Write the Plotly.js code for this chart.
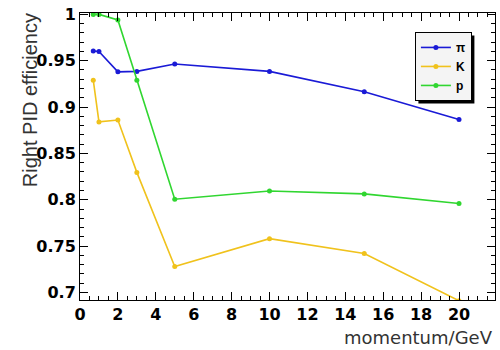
<!DOCTYPE html>
<html>
<head>
<meta charset="utf-8">
<script src="https://cdn.plot.ly/plotly-3.0.1.min.js"></script>
<style>html,body{margin:0;padding:0;background:#fff;}#chart{width:500px;height:350px;}</style>
</head>
<body>
<div id="chart"></div>
<script>
const momentum = [0.7, 1, 2, 3, 5, 10, 15, 20];
const effPi = [0.9605, 0.960, 0.938, 0.9385, 0.9465, 0.9385, 0.9165, 0.8865];
const effK  = [0.929, 0.884, 0.886, 0.8295, 0.728, 0.758, 0.742, 0.691];
const effP  = [1.0, 1.0, 0.994, 0.929, 0.8005, 0.8095, 0.8063, 0.796];
const seriesNames = ['\u03c0', 'K', 'p'];
const seriesColors = ['#1a1ad6', '#f0c21c', '#30d630'];

const allY = [effPi, effK, effP];
const traces = allY.map((ys, i) => ({
  x: momentum, y: ys, name: seriesNames[i], type: 'scatter', mode: 'lines+markers',
  line: {color: seriesColors[i], width: 1.6},
  marker: {color: seriesColors[i], size: 5, symbol: 'circle'}
}));

const tickFont = {family: 'DejaVu Sans, sans-serif', size: 16, color: '#000', weight: 'bold'};
const layout = {
  width: 500, height: 350,
  margin: {l: 80, r: 5, t: 13, b: 50},
  paper_bgcolor: '#fff', plot_bgcolor: '#fff',
  showlegend: true,
  legend: {
    x: 0.807, y: 0.934, xanchor: 'left', yanchor: 'top',
    bgcolor: '#f4f4f4', bordercolor: '#000', borderwidth: 1,
    font: {family: 'Liberation Sans, Arial, sans-serif', size: 12, color: '#000', weight: 'bold'},
    itemwidth: 30, tracegroupgap: 0
  },
  xaxis: {
    range: [0, 21.9], dtick: 2, tick0: 0, ticks: 'inside', ticklen: 8, tickwidth: 1, tickcolor: '#000',
    showline: true, linecolor: '#000', linewidth: 1, mirror: 'ticks', showgrid: false, zeroline: false,
    tickfont: tickFont, ticklabelstandoff: 0,
    minor: {dtick: 0.5, ticks: 'inside', ticklen: 4, tickcolor: '#000', showgrid: false}
  },
  yaxis: {
    range: [0.6918, 1.0015], dtick: 0.05, tick0: 0.7, ticks: 'inside', ticklen: 8, tickwidth: 1, tickcolor: '#000',
    showline: true, linecolor: '#000', linewidth: 1, mirror: 'ticks', showgrid: false, zeroline: false,
    tickfont: tickFont,
    minor: {dtick: 0.01, ticks: 'inside', ticklen: 4, tickcolor: '#000', showgrid: false}
  },
  annotations: [
    {text: 'Right PID efficiency', xref: 'paper', yref: 'paper', x: -0.12, y: 0.697,
     xanchor: 'center', yanchor: 'middle', textangle: -90, showarrow: false,
     font: {family: 'Liberation Sans, Arial, sans-serif', size: 20, color: '#333'}},
    {text: 'momentum/GeV', xref: 'paper', yref: 'paper', x: 1.0, y: -0.129,
     xanchor: 'right', yanchor: 'middle', showarrow: false,
     font: {family: 'DejaVu Sans, sans-serif', size: 18, color: '#333'}}
  ]
};
const gd = document.getElementById('chart');
Plotly.newPlot(gd, traces, layout, {displayModeBar: false, staticPlot: true}).then(() => {
  // drop shadow behind the legend box, sized from the rendered legend
  const bg = gd.querySelector('.legend .bg');
  if (!bg) return;
  const r = bg.getBoundingClientRect();
  const c = gd.getBoundingClientRect();
  const s = gd._fullLayout._size;
  const off = 3;
  const px = (xx) => (xx - c.left - s.l) / s.w;
  const py = (yy) => 1 - (yy - c.top - s.t) / s.h;
  return Plotly.relayout(gd, {shapes: [{
    type: 'rect', xref: 'paper', yref: 'paper',
    x0: px(r.left + off), x1: px(r.right + off),
    y0: py(r.bottom + off), y1: py(r.top + off),
    fillcolor: '#000', line: {width: 0}, layer: 'below'
  }]});
});
</script>
</body>
</html>
